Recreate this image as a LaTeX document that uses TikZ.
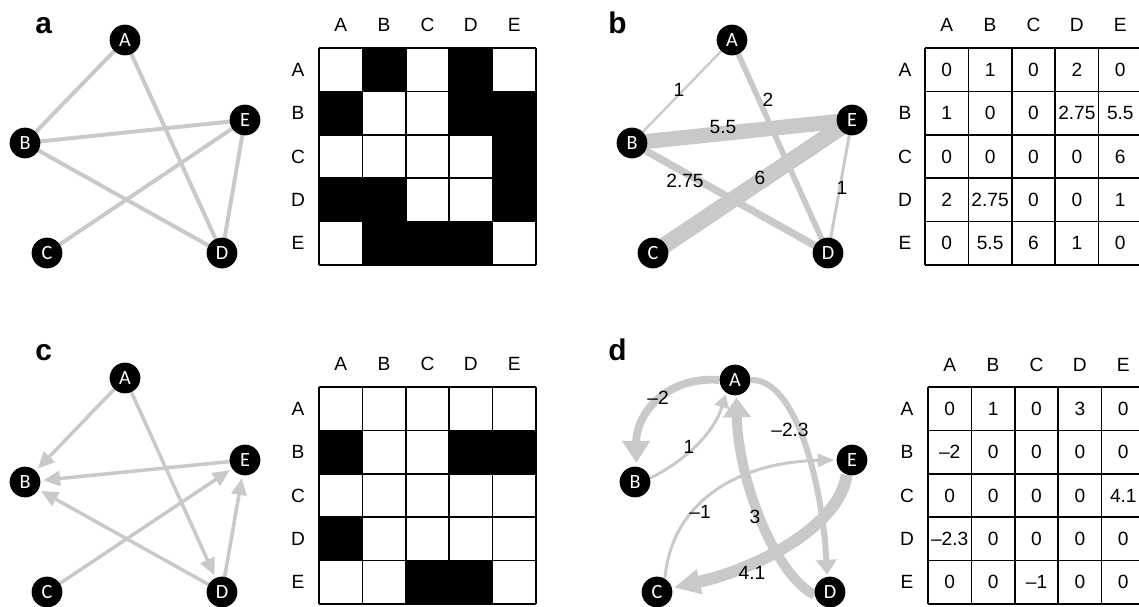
\documentclass[tikz,border=0pt]{standalone}
\usepackage{fontspec}
\setmainfont{Liberation Sans}
\newfontfamily\vxfont{Carlito}
\usetikzlibrary{arrows.meta,backgrounds}
\definecolor{eg}{RGB}{200,201,200}
\tikzset{
  vx/.style={circle,fill=black,text=white,minimum size=17.5pt,inner sep=0pt,font=\vxfont\fontsize{11.5}{13}\selectfont},
  txt/.style={inner sep=0pt,font=\fontsize{10.9}{12}\selectfont},
  plab/.style={inner sep=0pt,anchor=base west,font=\bfseries\fontsize{17}{19}\selectfont},
  gl/.style={line width=0.95pt,black},
  ea/.style={eg,line width=2.27pt},
  ec/.style={eg,line width=2pt,-{Triangle[length=9.6pt,width=8.5pt]},shorten >=1.5pt},
}
\newcommand\mygrid[2]{%
  \foreach \k in {0,...,5} {
    \draw[gl] ({#1+\k*43.4},#2) -- ({#1+\k*43.4},{#2+217});
    \draw[gl] (#1,{#2+\k*43.4}) -- ({#1+217},{#2+\k*43.4});
  }}
\newcommand\mylabels[5]{% left top name colY rowX
  \foreach \l [count=\c from 0] in {A,B,C,D,E} {
    \node[txt] (#3c\l) at ({#1+21.7+\c*43.4},#4) {\l};
    \node[txt] (#3r\l) at (#5,{#2+21.7+\c*43.4}) {\l};
  }}
\newcommand\myrow[4]{% left top rowindex list
  \foreach \v [count=\c from 0] in {#4}
    \node[txt] (m#3-\c) at ({#1+21.7+\c*43.4},{#2+21.7+#3*43.4}) {\v};}
\newcommand\mycell[4]{% left top row col
  \fill[black] ({#1+#4*43.4},{#2+#3*43.4}) rectangle ++(43.4,43.4);}
\begin{document}
\begin{tikzpicture}[x=0.02cm,y=-0.02cm]
\useasboundingbox (0,0) rectangle (1139,606);
% panel labels
\node[plab] (la) at (35,33) {a};
\node[plab] (lb) at (608,33) {b};
\node[plab] (lc) at (35,360) {c};
\node[plab] (ld) at (608,360) {d};

% ---------- panel a
\node[vx] (aA) at (125,40) {A};
\node[vx] (aB) at (25,143) {B};
\node[vx] (aC) at (47,253) {C};
\node[vx] (aD) at (222,253) {D};
\node[vx] (aE) at (245,120) {E};
\begin{pgfonlayer}{background}
\draw[ea] (aA.center) -- (aB.center);
\draw[ea] (aA.center) -- (aD.center);
\draw[ea] (aB.center) -- (aE.center);
\draw[ea] (aB.center) -- (aD.center);
\draw[ea] (aC.center) -- (aE.center);
\draw[ea] (aD.center) -- (aE.center);
\end{pgfonlayer}
\foreach \r/\c in {0/1,0/3,1/0,1/3,1/4,2/4,3/0,3/1,3/4,4/1,4/2,4/3} {\mycell{319}{48}{\r}{\c}}
\mygrid{319}{48}
\mylabels{319}{48}{ma}{25}{298}

% ---------- panel b
\node[vx] (bA) at (732,40) {A};
\node[vx] (bB) at (632,143) {B};
\node[vx] (bC) at (653,253) {C};
\node[vx] (bD) at (828,253) {D};
\node[vx] (bE) at (852,120) {E};
\begin{pgfonlayer}{background}
\draw[eg,line width=1.3pt] (bA.center) -- (bB.center);
\draw[eg,line width=3.2pt] (bA.center) -- (bD.center);
\draw[eg,line width=8.6pt] (bB.center) -- (bE.center);
\draw[eg,line width=4.2pt] (bB.center) -- (bD.center);
\draw[eg,line width=9.4pt] (bC.center) -- (bE.center);
\draw[eg,line width=1.7pt] (bD.center) -- (bE.center);
\end{pgfonlayer}
\node[txt] (wb1) at (679,90) {1};
\node[txt] (wb2) at (768,100) {2};
\node[txt] (wb3) at (723,127) {5.5};
\node[txt] (wb4) at (685,181) {2.75};
\node[txt] (wb5) at (760,178) {6};
\node[txt] (wb6) at (842,188) {1};
\mygrid{925}{48}
\mylabels{925}{48}{mb}{25}{905}
\myrow{925}{48}{0}{0,1,0,2,0}
\myrow{925}{48}{1}{1,0,0,2.75,5.5}
\myrow{925}{48}{2}{0,0,0,0,6}
\myrow{925}{48}{3}{2,2.75,0,0,1}
\myrow{925}{48}{4}{0,5.5,6,1,0}

% ---------- panel c
\node[vx] (cA) at (125,378) {A};
\node[vx] (cB) at (25,482) {B};
\node[vx] (cC) at (47,592) {C};
\node[vx] (cD) at (222,592) {D};
\node[vx] (cE) at (245,460) {E};
\begin{pgfonlayer}{background}
\draw[ec] (cA.center) -- (cB);
\draw[ec] (cA.center) -- (cD);
\draw[ec] (cE.center) -- (cB);
\draw[ec] (cD.center) -- (cB);
\draw[ec] (cC.center) -- (cE);
\draw[ec] (cD.center) -- (cE);
\end{pgfonlayer}
\foreach \r/\c in {1/0,1/3,1/4,3/0,4/2,4/3} {\mycell{319}{387}{\r}{\c}}
\mygrid{319}{387}
\mylabels{319}{387}{mc}{364}{298}

% ---------- panel d
\node[vx] (dA) at (735,380) {A};
\node[vx] (dB) at (635,482) {B};
\node[vx] (dC) at (657,592) {C};
\node[vx] (dD) at (830,592) {D};
\node[vx] (dE) at (852,460) {E};
\begin{pgfonlayer}{background}
\draw[eg,line width=4.5pt,-{Triangle[length=12.5pt,width=15.3pt]},shorten >=2pt]
  (dA.180) .. controls (665,376) and (636,415) .. (dB.85);
\draw[eg,line width=1.7pt,-{Triangle[length=7.4pt,width=8.5pt]},shorten >=1pt]
  (dB.15) .. controls (672,468) and (712,440) .. (dA.235);
\draw[eg,line width=3.4pt,-{Triangle[length=8.5pt,width=11.3pt]},shorten >=1pt]
  (dA.0) .. controls (795,378) and (822,480) .. (dD.100);
\draw[eg,line width=5.7pt,-{Triangle[length=11.3pt,width=15.3pt]},shorten >=1pt]
  (dD.190) .. controls (775,575) and (738,480) .. (dA.275);
\draw[eg,line width=6.8pt,-{Triangle[length=15pt,width=13.5pt]},shorten >=1pt]
  (dE.250) .. controls (840,525) and (760,568) .. (dC.15);
\draw[eg,line width=1.7pt,-{Triangle[length=9.6pt,width=7.4pt]},shorten >=1pt]
  (dC.60) .. controls (672,500) and (740,462) .. (dE.180);
\end{pgfonlayer}
\node[txt] (wd1) at (658,398) {–2};
\node[txt] (wd2) at (689,447) {1};
\node[txt] (wd3) at (790,430) {–2.3};
\node[txt] (wd4) at (700,512) {–1};
\node[txt] (wd5) at (755,517) {3};
\node[txt] (wd6) at (752,573) {4.1};
\mygrid{928}{387}
\mylabels{928}{387}{md}{365}{907}
\myrow{928}{387}{0}{0,1,0,3,0}
\myrow{928}{387}{1}{–2,0,0,0,0}
\myrow{928}{387}{2}{0,0,0,0,4.1}
\myrow{928}{387}{3}{–2.3,0,0,0,0}
\myrow{928}{387}{4}{0,0,–1,0,0}
\end{tikzpicture}
\end{document}
